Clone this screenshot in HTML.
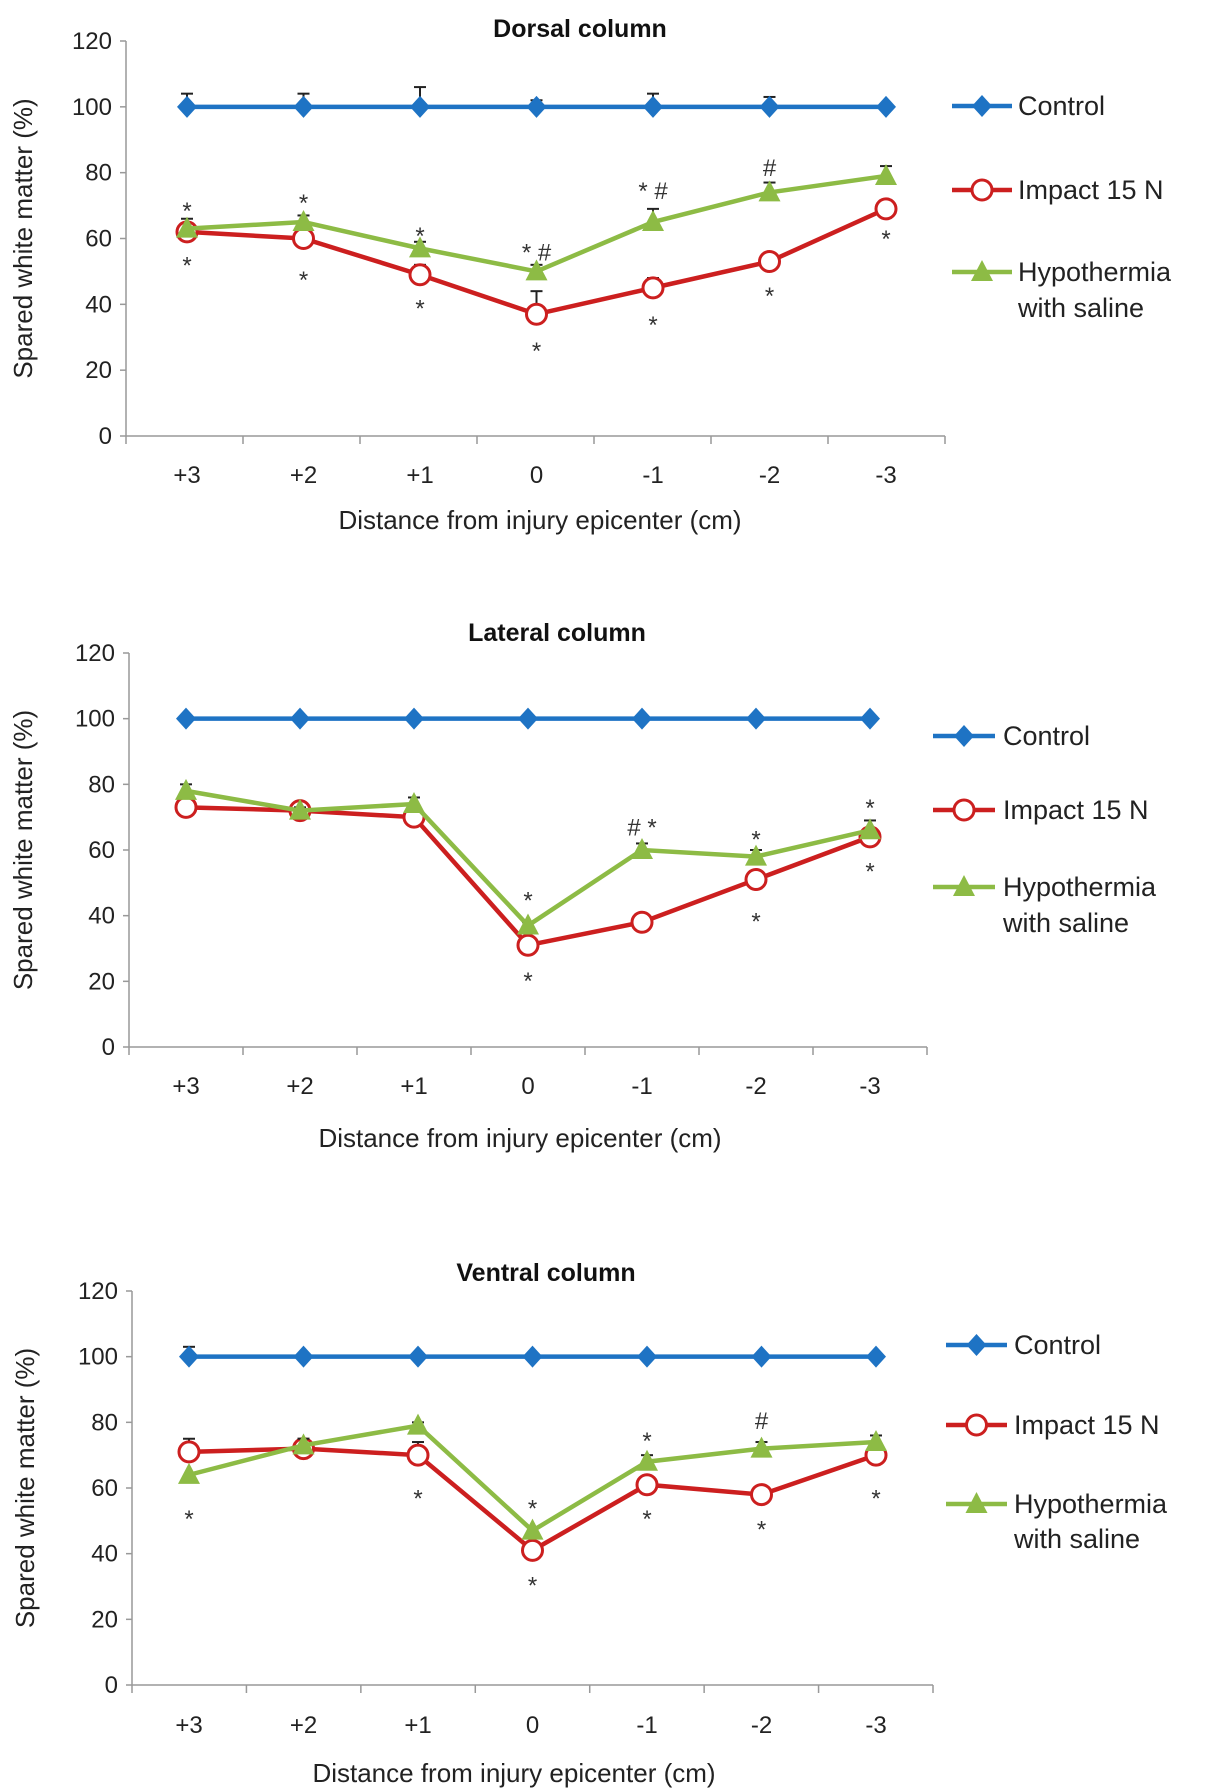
<!DOCTYPE html>
<html><head><meta charset="utf-8"><style>
html,body{margin:0;padding:0;background:#fff;}
svg{display:block;font-family:"Liberation Sans",Arial,sans-serif;}
</style></head><body>
<svg id="fig" width="1207" height="1792" viewBox="0 0 1207 1792" xmlns="http://www.w3.org/2000/svg"></svg>
<script>
const categories = ["+3","+2","+1","0","-1","-2","-3"];
const yTicks = [0,20,40,60,80,100,120];
const seriesNames = ["Control","Impact 15 N","Hypothermia","with saline"];

const dorsalControl = [100,100,100,100,100,100,100];
const dorsalControlErr = [4,4,6,2,4,3,0];
const dorsalImpact = [62,60,49,37,45,53,69];
const dorsalImpactErr = [0,0,3,7,3,1,1];
const dorsalHypo = [63,65,57,50,65,74,79];
const dorsalHypoErr = [3,2,2,2,4,3,3];
const dorsalAnnIdx = [0,0,1,1,2,2,3,3,4,4,5,5,6];
const dorsalAnnVal = [69.6,53,72,48.6,62,40,57,27,75.6,35,82.6,43.7,61];
const dorsalAnnText = ["*","*","*","*","*","*","* #","*","*  #","*","#","*","*"];

const lateralControl = [100,100,100,100,100,100,100];
const lateralControlErr = [0,0,0,0,0,0,1];
const lateralImpact = [73,72,70,31,38,51,64];
const lateralImpactErr = [0,1,0,0,2,1,0];
const lateralHypo = [78,72,74,37,60,58,66];
const lateralHypoErr = [2,1,2,1,2,2,3];
const lateralAnnIdx = [3,3,4,5,5,6,6];
const lateralAnnVal = [45.8,21.3,68,64.4,39.5,74,54.6];
const lateralAnnText = ["*","*","#  *","*","*","*","*"];

const ventralControl = [100,100,100,100,100,100,100];
const ventralControlErr = [3,0,0,0,0,0,0];
const ventralImpact = [71,72,70,41,61,58,70];
const ventralImpactErr = [4,3,4,0,0,0,0];
const ventralHypo = [64,73,79,47,68,72,74];
const ventralHypoErr = [0,2,1,0,2,2,2];
const ventralAnnIdx = [0,2,3,3,4,4,5,5,6];
const ventralAnnVal = [51.8,58,55,31.5,75.6,51.8,81.6,48.6,58];
const ventralAnnText = ["*","*","*","*","*","*","#","*","*"];

const NS="http://www.w3.org/2000/svg";
const svg=document.getElementById('fig');
function mk(tag,attrs,parent){const e=document.createElementNS(NS,tag);for(const k in attrs)e.setAttribute(k,attrs[k]);(parent||svg).appendChild(e);return e;}
function txt(s,attrs,parent){const e=mk('text',attrs,parent);e.textContent=s;return e;}

function chart(cfg){
  const g=mk('g',{});
  
  
  const x0=cfg.axisX, xEnd=cfg.axisEnd, yb=cfg.y0, yt=cfg.y120;
  const yS=v=>yb-(v/120)*(yb-yt);
  const step=(cfg.xLast-cfg.xFirst)/6;
  const xS=i=>cfg.xFirst+i*step;
  const t=txt(cfg.title,{x:cfg.titleX,y:cfg.titleY,'text-anchor':'middle','font-size':25,'font-weight':'bold',fill:'#111'},g);
  
  
  // axes
  const ya=mk('line',{x1:x0,y1:yt,x2:x0,y2:yb,stroke:'#999','stroke-width':1.5},g);
  
  
  const xa=mk('line',{x1:x0,y1:yb,x2:xEnd,y2:yb,stroke:'#999','stroke-width':1.5},g);
  
  
  yTicks.forEach(v=>{
    mk('line',{x1:x0-6,y1:yS(v),x2:x0,y2:yS(v),stroke:'#999','stroke-width':1.5},g);
    const l=txt(String(v),{x:x0-14,y:yS(v)+8,'text-anchor':'end','font-size':24,fill:'#222'},g);
    
    
  });
  for(let i=0;i<=7;i++){const xx=x0+i*(xEnd-x0)/7;mk('line',{x1:xx,y1:yb,x2:xx,y2:yb+8,stroke:'#999','stroke-width':1.5},g);}
  categories.forEach((c,i)=>{
    const l=txt(c,{x:xS(i),y:cfg.tickY,'text-anchor':'middle','font-size':24,fill:'#222'},g);
    
    
  });
  const xt=txt('Distance from injury epicenter  (cm)',{x:cfg.xTitleX,y:cfg.xTitleY,'text-anchor':'middle','font-size':26,fill:'#222'},g);
  
  
  const ycy=(yt+yb)/2;
  const yt2=txt('Spared white matter  (%)',{x:0,y:0,'text-anchor':'middle','font-size':26,fill:'#222',transform:`translate(${cfg.yTitleX},${ycy}) rotate(-90)`},g);
  
  

  const series=[
    {vals:cfg.control,err:cfg.controlErr,color:'#1e73c4',mark:'diamond',name:'control-series'},
    {vals:cfg.impact,err:cfg.impactErr,color:'#cc1f1f',mark:'circle',name:'impact-series'},
    {vals:cfg.hypo,err:cfg.hypoErr,color:'#8dbb45',mark:'triangle',name:'hypothermia-series'}
  ];
  function marker(m,x,y,color,parent){
    let e;
    if(m==='diamond') e=mk('polygon',{points:`${x},${y-11} ${x+10},${y} ${x},${y+11} ${x-10},${y}`,fill:color},parent);
    else if(m==='circle') e=mk('circle',{cx:x,cy:y,r:10,fill:'#fff',stroke:color,'stroke-width':3},parent);
    else e=mk('polygon',{points:`${x},${y-12} ${x+11},${y+9} ${x-11},${y+9}`,fill:color},parent);
    return e;
  }
  series.forEach(s=>{
    const sg=mk('g',{},g);
    
    
    s.vals.forEach((v,i)=>{
      if(s.err[i]>0){
        mk('line',{x1:xS(i),y1:yS(v),x2:xS(i),y2:yS(v+s.err[i]),stroke:'#222','stroke-width':2},sg);
        mk('line',{x1:xS(i)-6,y1:yS(v+s.err[i]),x2:xS(i)+6,y2:yS(v+s.err[i]),stroke:'#222','stroke-width':2},sg);
      }
    });
    const pts=s.vals.map((v,i)=>`${xS(i)},${yS(v)}`).join(' ');
    const pl=mk('polyline',{points:pts,fill:'none',stroke:s.color,'stroke-width':4.5},sg);
    
    
    s.vals.forEach((v,i)=>{
      const m=marker(s.mark,xS(i),yS(v),s.color,sg);
      
      
    });
  });
  cfg.annIdx.forEach((idx,k)=>{
    const a=txt(cfg.annText[k],{x:xS(idx),y:yS(cfg.annVal[k])+12,'text-anchor':'middle','font-size':24,fill:'#333','xml:space':'preserve'},g);
    
    
  });
  // legend
  const lg=mk('g',{},g);
  
  
  const L=cfg.legend;
  [[L.y1,0,'Control'],[L.y2,1,'Impact 15 N'],[L.y3,2,'Hypothermia']].forEach(([y,si,label])=>{
    const s=series[si];
    const eg=mk('g',{},lg);
    
    
    mk('line',{x1:L.x1,y1:y,x2:L.x2,y2:y,stroke:s.color,'stroke-width':4.5},eg);
    marker(s.mark,(L.x1+L.x2)/2,y,s.color,eg);
    txt(label,{x:L.tx,y:y+9,'font-size':27,fill:'#222'},eg);
  });
  txt('with saline',{x:L.tx,y:L.y4+9,'font-size':27,fill:'#222'},lg);
}

chart({name:'dorsal-column-chart',title:'Dorsal column',titleX:580,titleY:37,axisX:126,axisEnd:945,y0:436,y120:41,
  xFirst:187,xLast:886,tickY:483,xTitleX:540,xTitleY:529,yTitleX:32,
  control:dorsalControl,controlErr:dorsalControlErr,impact:dorsalImpact,impactErr:dorsalImpactErr,hypo:dorsalHypo,hypoErr:dorsalHypoErr,
  annIdx:dorsalAnnIdx,annVal:dorsalAnnVal,annText:dorsalAnnText,
  legend:{x1:952,x2:1012,tx:1018,y1:106,y2:190,y3:272,y4:308}});
chart({name:'lateral-column-chart',title:'Lateral column',titleX:557,titleY:641,axisX:129,axisEnd:927,y0:1047,y120:653,
  xFirst:186,xLast:870,tickY:1094,xTitleX:520,xTitleY:1147,yTitleX:32,
  control:lateralControl,controlErr:lateralControlErr,impact:lateralImpact,impactErr:lateralImpactErr,hypo:lateralHypo,hypoErr:lateralHypoErr,
  annIdx:lateralAnnIdx,annVal:lateralAnnVal,annText:lateralAnnText,
  legend:{x1:933,x2:995,tx:1003,y1:736,y2:810,y3:887,y4:923}});
chart({name:'ventral-column-chart',title:'Ventral column',titleX:546,titleY:1281,axisX:132,axisEnd:933,y0:1685,y120:1291,
  xFirst:189,xLast:876,tickY:1733,xTitleX:514,xTitleY:1782,yTitleX:34,
  control:ventralControl,controlErr:ventralControlErr,impact:ventralImpact,impactErr:ventralImpactErr,hypo:ventralHypo,hypoErr:ventralHypoErr,
  annIdx:ventralAnnIdx,annVal:ventralAnnVal,annText:ventralAnnText,
  legend:{x1:946,x2:1007,tx:1014,y1:1345,y2:1425,y3:1504,y4:1539}});
</script>
</body></html>
